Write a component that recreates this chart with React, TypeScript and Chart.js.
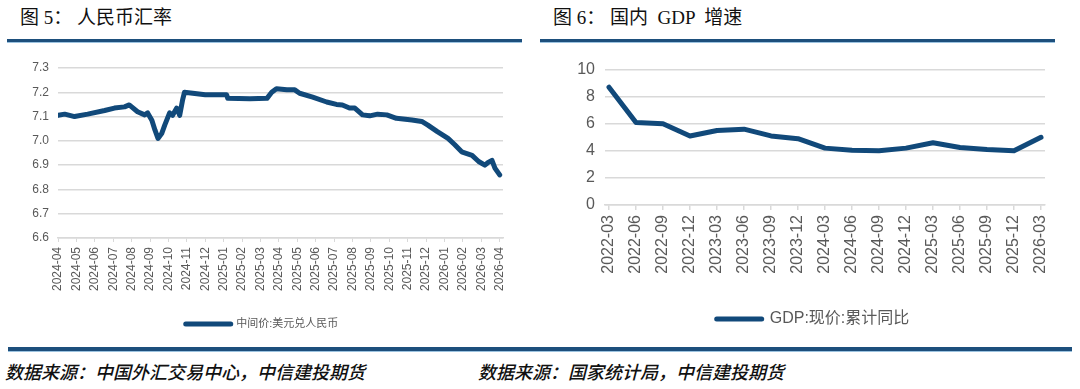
import React, { useEffect, useRef } from "react";
import { Chart, registerables } from "chart.js";

Chart.register(...registerables);

// ---------- data ----------
const fxTickLabels = [
  "2024-04", "2024-05", "2024-06", "2024-07", "2024-08", "2024-09", "2024-10",
  "2024-11", "2024-12", "2025-01", "2025-02", "2025-03", "2025-04", "2025-05",
  "2025-06", "2025-07", "2025-08", "2025-09", "2025-10", "2025-11", "2025-12",
  "2026-01", "2026-02", "2026-03", "2026-04",
];

const fxDates = [
  "2024-04-01", "2024-04-12", "2024-04-28", "2024-05-20", "2024-06-17", "2024-07-03",
  "2024-07-20", "2024-07-28", "2024-08-11", "2024-08-23", "2024-08-28", "2024-09-04",
  "2024-09-09", "2024-09-14", "2024-09-20", "2024-09-25", "2024-10-03", "2024-10-08",
  "2024-10-15", "2024-10-20", "2024-10-25", "2024-10-28", "2024-11-14", "2024-12-01",
  "2025-01-06", "2025-01-08", "2025-02-13", "2025-03-12", "2025-03-20", "2025-03-28",
  "2025-04-14", "2025-04-27", "2025-05-05", "2025-05-27", "2025-06-19", "2025-07-05",
  "2025-07-15", "2025-07-27", "2025-08-05", "2025-08-18", "2025-08-30", "2025-09-12",
  "2025-09-27", "2025-10-13", "2025-11-08", "2025-11-24", "2025-12-04", "2025-12-20",
  "2026-01-07", "2026-01-18", "2026-01-30", "2026-02-15", "2026-02-25", "2026-03-07",
  "2026-03-12", "2026-03-19", "2026-03-24", "2026-04-01",
];

const fxValues = [
  7.105, 7.11, 7.1, 7.11, 7.125, 7.135,
  7.14, 7.148, 7.12, 7.107, 7.115, 7.085,
  7.045, 7.01, 7.03, 7.065, 7.115, 7.105,
  7.135, 7.105, 7.17, 7.2, 7.195, 7.19,
  7.19, 7.175, 7.173, 7.175, 7.2, 7.215,
  7.21, 7.21, 7.196, 7.18, 7.16, 7.15,
  7.148, 7.135, 7.135, 7.107, 7.103, 7.11,
  7.107, 7.093, 7.086, 7.08, 7.065, 7.038,
  7.01, 6.985, 6.955, 6.94, 6.915, 6.9,
  6.91, 6.92, 6.888, 6.86,
];

const gdpQuarters = [
  "2022-03", "2022-06", "2022-09", "2022-12", "2023-03", "2023-06", "2023-09",
  "2023-12", "2024-03", "2024-06", "2024-09", "2024-12", "2025-03", "2025-06",
  "2025-09", "2025-12", "2026-03",
];

const gdpValues = [
  8.7, 6.1, 6.0, 5.1, 5.5, 5.6, 5.1, 4.9, 4.2, 4.05, 4.0, 4.2, 4.6, 4.25, 4.1, 4.0, 5.0,
];

// ---------- styles ----------
const lineColor = "#11497a";
const gridColor = "#d9d9d9";
const tickColor = "#595959";
const chartFont = '"Liberation Sans", Arial, "Noto Sans CJK SC", sans-serif';
const titleFont = '"Liberation Serif", "Noto Sans CJK SC", serif';
const cjkFont = '"Noto Sans CJK SC", sans-serif';

function monthIndex(d: string): number {
  const [y, m, day] = d.split("-").map(Number);
  const dim = new Date(y, m, 0).getDate();
  return (y - 2024) * 12 + (m - 4) + (day - 1) / dim;
}

function legendLabels(chart: any) {
  return (Chart.defaults.plugins.legend.labels as any)
    .generateLabels(chart)
    .map((l: any) => ({ ...l, lineWidth: 5, lineCap: "round", strokeStyle: lineColor }));
}

// centres the legend row inside [left, right] of the canvas
function legendBox(left: number, right: number) {
  return {
    id: "legendBox",
    afterLayout(chart: any) {
      const lg = chart.legend;
      if (lg) {
        lg.left = left;
        lg.right = right;
        lg.width = right - left;
      }
    },
  };
}

function fxConfig(): any {
  return {
    type: "line",
    data: {
      datasets: [
        {
          label: "中间价:美元兑人民币",
          data: fxDates.map((d, i) => ({ x: monthIndex(d), y: fxValues[i] })),
          borderColor: lineColor,
          backgroundColor: lineColor,
          borderWidth: 5,
          pointRadius: 0,
          tension: 0,
          borderCapStyle: "round",
          borderJoinStyle: "round",
        },
      ],
    },
    plugins: [legendBox(21, 503)],
    options: {
      responsive: false,
      animation: false,
      layout: { padding: { left: 0, right: 37, top: 18, bottom: 0.5 } },
      plugins: {
        legend: {
          position: "bottom",
          labels: {
            usePointStyle: true,
            pointStyle: "line",
            pointStyleWidth: 45,
            color: tickColor,
            font: { family: chartFont, size: 11 },
            padding: 10,
            generateLabels: legendLabels,
          },
        },
        tooltip: { enabled: false },
      },
      scales: {
        x: {
          type: "linear",
          min: 0,
          max: 24.18,
          bounds: "data",
          afterBuildTicks: (s: any) => {
            s.ticks = fxTickLabels.map((_, i) => ({ value: i }));
          },
          afterFit: (s: any) => {
            s.height = 70.5;
          },
          grid: { drawOnChartArea: false, drawTicks: true, tickLength: 4, color: gridColor, lineWidth: 1 },
          border: { display: true, color: gridColor, width: 1.5 },
          ticks: {
            autoSkip: false,
            maxRotation: 90,
            minRotation: 90,
            padding: 5,
            color: tickColor,
            font: { family: chartFont, size: 12 },
            callback: (v: any) => fxTickLabels[Math.round(Number(v))] ?? "",
          },
        },
        y: {
          min: 6.6,
          max: 7.3,
          afterFit: (s: any) => {
            s.width = 58;
          },
          grid: { color: gridColor, lineWidth: 1.5, drawTicks: false },
          border: { display: false },
          ticks: {
            stepSize: 0.1,
            padding: 9,
            color: tickColor,
            font: { family: chartFont, size: 12 },
            callback: (v: any) => Number(v).toFixed(1),
          },
        },
      },
    },
  };
}

function gdpConfig(): any {
  return {
    type: "line",
    data: {
      datasets: [
        {
          label: "GDP:现价:累计同比",
          data: gdpValues.map((v, i) => ({ x: i, y: v })),
          borderColor: lineColor,
          backgroundColor: lineColor,
          borderWidth: 5,
          pointRadius: 0,
          tension: 0,
          borderCapStyle: "round",
          borderJoinStyle: "round",
        },
      ],
    },
    plugins: [legendBox(41, 505)],
    options: {
      responsive: false,
      animation: false,
      layout: { padding: { left: 0, right: 35, top: 17.7, bottom: 3 } },
      plugins: {
        legend: {
          position: "bottom",
          labels: {
            usePointStyle: true,
            pointStyle: "line",
            pointStyleWidth: 45,
            color: tickColor,
            font: { family: chartFont, size: 16 },
            padding: 10,
            generateLabels: legendLabels,
          },
        },
        tooltip: { enabled: false },
      },
      scales: {
        x: {
          type: "linear",
          min: -0.148,
          max: 16.148,
          bounds: "data",
          afterBuildTicks: (s: any) => {
            s.ticks = gdpQuarters.map((_, i) => ({ value: i }));
          },
          afterFit: (s: any) => {
            s.height = 96;
          },
          grid: { drawOnChartArea: false, drawTicks: true, tickLength: 5, color: gridColor, lineWidth: 1.5 },
          border: { display: true, color: gridColor, width: 1.5 },
          ticks: {
            autoSkip: false,
            maxRotation: 90,
            minRotation: 90,
            padding: 5,
            color: tickColor,
            font: { family: chartFont, size: 16 },
            callback: (v: any) => gdpQuarters[Math.round(Number(v))] ?? "",
          },
        },
        y: {
          min: 0,
          max: 10,
          afterFit: (s: any) => {
            s.width = 65;
          },
          grid: { color: gridColor, lineWidth: 1.5, drawTicks: false },
          border: { display: false },
          ticks: {
            stepSize: 2,
            padding: 10,
            color: tickColor,
            font: { family: chartFont, size: 16 },
          },
        },
      },
    },
  };
}

function ChartBox({ makeConfig, left, top, width, height }: any) {
  const ref = useRef<HTMLCanvasElement>(null);
  useEffect(() => {
    const chart = new Chart(ref.current as HTMLCanvasElement, makeConfig());
    return () => chart.destroy();
  }, []);
  return (
    <div style={{ position: "absolute", left, top, width, height }}>
      <canvas ref={ref} width={width} height={height} style={{ display: "block" }} />
    </div>
  );
}

export default function App() {
  const titleStyle: any = {
    position: "absolute",
    top: 6,
    fontFamily: titleFont,
    fontSize: 19,
    lineHeight: "24px",
    color: "#111",
    whiteSpace: "pre",
  };
  const barStyle: any = {
    position: "absolute",
    height: 3,
    background: "#1d4f7c",
    boxShadow: "0 1px 0 #9cc3e0",
  };
  const footStyle: any = {
    position: "absolute",
    top: 360,
    fontFamily: cjkFont,
    fontStyle: "italic",
    fontWeight: 500,
    fontSize: 18,
    lineHeight: "22px",
    color: "#111",
    whiteSpace: "pre",
  };
  return (
    <div
      style={{
        position: "absolute",
        left: 0,
        top: 0,
        width: 1080,
        height: 389,
        background: "#fff",
        overflow: "hidden",
      }}
    >
      <div style={{ ...titleStyle, left: 20 }}>图 5： 人民币汇率</div>
      <div style={{ ...titleStyle, left: 553 }}>图 6： 国内  GDP  增速</div>
      <div style={{ ...barStyle, left: 7, top: 39, width: 515 }} />
      <div style={{ ...barStyle, left: 540, top: 39, width: 515 }} />

      <ChartBox makeConfig={fxConfig} left={0} top={50} width={540} height={290} />
      <ChartBox makeConfig={gdpConfig} left={540} top={50} width={540} height={290} />

      <div style={{ ...barStyle, left: 8, top: 347, width: 1064, height: 4 }} />
      <div style={{ ...footStyle, left: 5 }}>数据来源：中国外汇交易中心，中信建投期货</div>
      <div style={{ ...footStyle, left: 478 }}>数据来源：国家统计局，中信建投期货</div>
    </div>
  );
}
